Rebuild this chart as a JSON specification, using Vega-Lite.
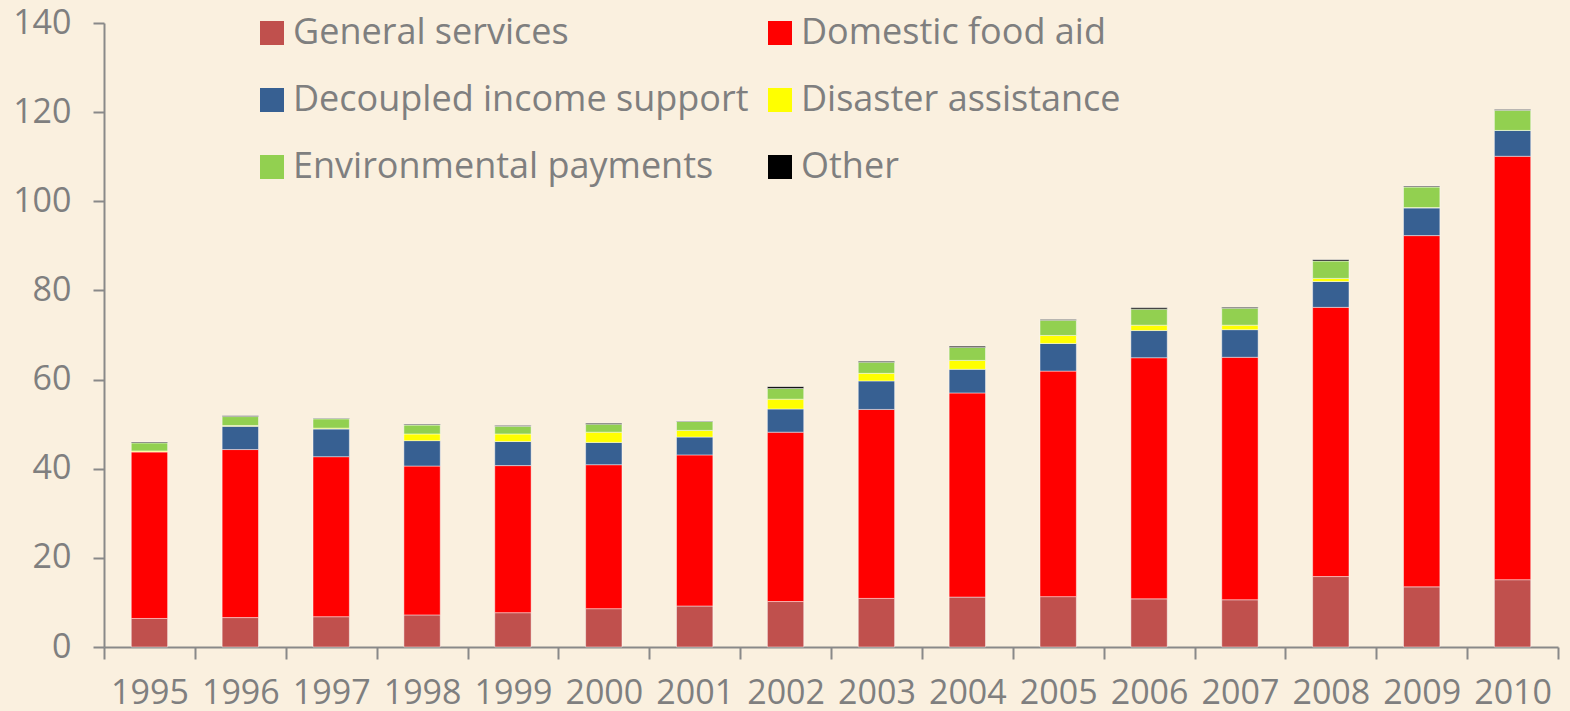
{
  "$schema": "https://vega.github.io/schema/vega-lite/v6.json",
  "width": 1454,
  "height": 624,
  "autosize": {"type": "none"},
  "padding": {"left": 104, "top": 23, "right": 12, "bottom": 64},
  "background": "#FAF0DF",
  "config": {
    "view": {"stroke": null},
    "font": "Open Sans",
    "axis": {"labelFont": "Open Sans", "labelColor": "#7F7F7F", "labelFontSize": 34, "domainColor": "#898989", "tickColor": "#898989", "domainWidth": 2, "tickWidth": 2, "grid": false, "title": null},
    "legend": {"labelFont": "Open Sans", "labelColor": "#7F7F7F", "labelFontSize": 36}
  },
  "data": {
    "values": [
      {"year": "1995", "cat": "General services", "o": 1, "v": 6.4},
      {"year": "1995", "cat": "Domestic food aid", "o": 2, "v": 37.4},
      {"year": "1995", "cat": "Decoupled income support", "o": 3, "v": 0},
      {"year": "1995", "cat": "Disaster assistance", "o": 4, "v": 0.2},
      {"year": "1995", "cat": "Environmental payments", "o": 5, "v": 1.8},
      {"year": "1995", "cat": "Other", "o": 6, "v": 0.2},
      {"year": "1996", "cat": "General services", "o": 1, "v": 6.6},
      {"year": "1996", "cat": "Domestic food aid", "o": 2, "v": 37.7},
      {"year": "1996", "cat": "Decoupled income support", "o": 3, "v": 5.2},
      {"year": "1996", "cat": "Disaster assistance", "o": 4, "v": 0.2},
      {"year": "1996", "cat": "Environmental payments", "o": 5, "v": 2.0},
      {"year": "1996", "cat": "Other", "o": 6, "v": 0.2},
      {"year": "1997", "cat": "General services", "o": 1, "v": 6.8},
      {"year": "1997", "cat": "Domestic food aid", "o": 2, "v": 35.9},
      {"year": "1997", "cat": "Decoupled income support", "o": 3, "v": 6.2},
      {"year": "1997", "cat": "Disaster assistance", "o": 4, "v": 0.2},
      {"year": "1997", "cat": "Environmental payments", "o": 5, "v": 2.1},
      {"year": "1997", "cat": "Other", "o": 6, "v": 0.1},
      {"year": "1998", "cat": "General services", "o": 1, "v": 7.2},
      {"year": "1998", "cat": "Domestic food aid", "o": 2, "v": 33.4},
      {"year": "1998", "cat": "Decoupled income support", "o": 3, "v": 5.7},
      {"year": "1998", "cat": "Disaster assistance", "o": 4, "v": 1.5},
      {"year": "1998", "cat": "Environmental payments", "o": 5, "v": 2.0},
      {"year": "1998", "cat": "Other", "o": 6, "v": 0.15},
      {"year": "1999", "cat": "General services", "o": 1, "v": 7.7},
      {"year": "1999", "cat": "Domestic food aid", "o": 2, "v": 33.0},
      {"year": "1999", "cat": "Decoupled income support", "o": 3, "v": 5.4},
      {"year": "1999", "cat": "Disaster assistance", "o": 4, "v": 1.7},
      {"year": "1999", "cat": "Environmental payments", "o": 5, "v": 1.7},
      {"year": "1999", "cat": "Other", "o": 6, "v": 0.2},
      {"year": "2000", "cat": "General services", "o": 1, "v": 8.6},
      {"year": "2000", "cat": "Domestic food aid", "o": 2, "v": 32.3},
      {"year": "2000", "cat": "Decoupled income support", "o": 3, "v": 5.0},
      {"year": "2000", "cat": "Disaster assistance", "o": 4, "v": 2.3},
      {"year": "2000", "cat": "Environmental payments", "o": 5, "v": 1.8},
      {"year": "2000", "cat": "Other", "o": 6, "v": 0.2},
      {"year": "2001", "cat": "General services", "o": 1, "v": 9.2},
      {"year": "2001", "cat": "Domestic food aid", "o": 2, "v": 33.9},
      {"year": "2001", "cat": "Decoupled income support", "o": 3, "v": 4.0},
      {"year": "2001", "cat": "Disaster assistance", "o": 4, "v": 1.5},
      {"year": "2001", "cat": "Environmental payments", "o": 5, "v": 2.0},
      {"year": "2001", "cat": "Other", "o": 6, "v": 0.1},
      {"year": "2002", "cat": "General services", "o": 1, "v": 10.2},
      {"year": "2002", "cat": "Domestic food aid", "o": 2, "v": 38.0},
      {"year": "2002", "cat": "Decoupled income support", "o": 3, "v": 5.2},
      {"year": "2002", "cat": "Disaster assistance", "o": 4, "v": 2.2},
      {"year": "2002", "cat": "Environmental payments", "o": 5, "v": 2.4},
      {"year": "2002", "cat": "Other", "o": 6, "v": 0.4},
      {"year": "2003", "cat": "General services", "o": 1, "v": 10.9},
      {"year": "2003", "cat": "Domestic food aid", "o": 2, "v": 42.4},
      {"year": "2003", "cat": "Decoupled income support", "o": 3, "v": 6.4},
      {"year": "2003", "cat": "Disaster assistance", "o": 4, "v": 1.7},
      {"year": "2003", "cat": "Environmental payments", "o": 5, "v": 2.5},
      {"year": "2003", "cat": "Other", "o": 6, "v": 0.2},
      {"year": "2004", "cat": "General services", "o": 1, "v": 11.2},
      {"year": "2004", "cat": "Domestic food aid", "o": 2, "v": 45.8},
      {"year": "2004", "cat": "Decoupled income support", "o": 3, "v": 5.3},
      {"year": "2004", "cat": "Disaster assistance", "o": 4, "v": 2.0},
      {"year": "2004", "cat": "Environmental payments", "o": 5, "v": 2.9},
      {"year": "2004", "cat": "Other", "o": 6, "v": 0.3},
      {"year": "2005", "cat": "General services", "o": 1, "v": 11.3},
      {"year": "2005", "cat": "Domestic food aid", "o": 2, "v": 50.6},
      {"year": "2005", "cat": "Decoupled income support", "o": 3, "v": 6.2},
      {"year": "2005", "cat": "Disaster assistance", "o": 4, "v": 1.8},
      {"year": "2005", "cat": "Environmental payments", "o": 5, "v": 3.4},
      {"year": "2005", "cat": "Other", "o": 6, "v": 0.2},
      {"year": "2006", "cat": "General services", "o": 1, "v": 10.8},
      {"year": "2006", "cat": "Domestic food aid", "o": 2, "v": 54.1},
      {"year": "2006", "cat": "Decoupled income support", "o": 3, "v": 6.1},
      {"year": "2006", "cat": "Disaster assistance", "o": 4, "v": 1.2},
      {"year": "2006", "cat": "Environmental payments", "o": 5, "v": 3.6},
      {"year": "2006", "cat": "Other", "o": 6, "v": 0.3},
      {"year": "2007", "cat": "General services", "o": 1, "v": 10.6},
      {"year": "2007", "cat": "Domestic food aid", "o": 2, "v": 54.4},
      {"year": "2007", "cat": "Decoupled income support", "o": 3, "v": 6.2},
      {"year": "2007", "cat": "Disaster assistance", "o": 4, "v": 1.0},
      {"year": "2007", "cat": "Environmental payments", "o": 5, "v": 3.8},
      {"year": "2007", "cat": "Other", "o": 6, "v": 0.2},
      {"year": "2008", "cat": "General services", "o": 1, "v": 15.8},
      {"year": "2008", "cat": "Domestic food aid", "o": 2, "v": 60.4},
      {"year": "2008", "cat": "Decoupled income support", "o": 3, "v": 5.8},
      {"year": "2008", "cat": "Disaster assistance", "o": 4, "v": 0.7},
      {"year": "2008", "cat": "Environmental payments", "o": 5, "v": 3.9},
      {"year": "2008", "cat": "Other", "o": 6, "v": 0.3},
      {"year": "2009", "cat": "General services", "o": 1, "v": 13.5},
      {"year": "2009", "cat": "Domestic food aid", "o": 2, "v": 78.8},
      {"year": "2009", "cat": "Decoupled income support", "o": 3, "v": 6.2},
      {"year": "2009", "cat": "Disaster assistance", "o": 4, "v": 0.1},
      {"year": "2009", "cat": "Environmental payments", "o": 5, "v": 4.6},
      {"year": "2009", "cat": "Other", "o": 6, "v": 0.2},
      {"year": "2010", "cat": "General services", "o": 1, "v": 15.1},
      {"year": "2010", "cat": "Domestic food aid", "o": 2, "v": 95.0},
      {"year": "2010", "cat": "Decoupled income support", "o": 3, "v": 5.8},
      {"year": "2010", "cat": "Disaster assistance", "o": 4, "v": 0},
      {"year": "2010", "cat": "Environmental payments", "o": 5, "v": 4.5},
      {"year": "2010", "cat": "Other", "o": 6, "v": 0.2}
    ]
  },
  "mark": {"type": "bar", "width": {"band": 0.4}, "stroke": "#FFFFFF", "strokeOpacity": 0.45, "strokeWidth": 1},
  "encoding": {
    "x": {
      "field": "year", "type": "ordinal",
      "scale": {"paddingInner": 0, "paddingOuter": 0},
      "axis": {"labelAngle": 0, "tickBand": "extent", "tickSize": 12, "labelPadding": 17}
    },
    "y": {
      "field": "v", "type": "quantitative", "stack": "zero",
      "scale": {"domain": [0, 140], "nice": false},
      "axis": {"values": [0, 20, 40, 60, 80, 100, 120, 140], "tickSize": 11, "labelPadding": 22}
    },
    "order": {"field": "o", "sort": "ascending"},
    "color": {
      "field": "cat", "type": "nominal",
      "scale": {
        "domain": ["General services", "Domestic food aid", "Decoupled income support", "Disaster assistance", "Environmental payments", "Other"],
        "range": ["#C0504D", "#FF0000", "#376092", "#FFFF00", "#92D050", "#000000"]
      },
      "legend": {
        "title": null, "orient": "none", "legendX": 150, "legendY": -8, "direction": "horizontal",
        "columns": 2, "symbolType": "square", "symbolSize": 576, "symbolStrokeWidth": 0,
        "labelOffset": 3, "rowPadding": 31, "columnPadding": 13, "labelLimit": 700, "padding": 0
      }
    }
  }
}
